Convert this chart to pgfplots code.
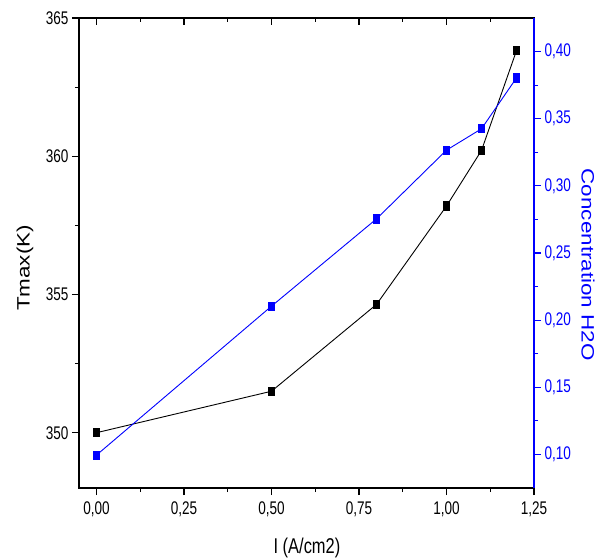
\documentclass[border=0pt]{standalone}
\usepackage{fontspec}
\setmainfont{Liberation Sans}
\usepackage{graphicx}
\usepackage{pgfplots}
\pgfplotsset{compat=1.18}
\definecolor{pblue}{RGB}{0,0,255}
\begin{document}
\begin{tikzpicture}
\path[use as bounding box] (-79bp,-72bp) rectangle (527bp,488bp);
\pgfplotsset{
  common/.style={
    scale only axis, width=455bp, height=470bp,
    xmin=-0.05, xmax=1.25,
    /pgf/number format/assume math mode=true,
    major tick length=7bp, minor tick length=4bp,
    every tick/.style={line width=1.1bp},
    axis line style={line width=1.4bp},
    tick label style={font=\fontsize{13.6}{15}\selectfont},
    xticklabel={\scalebox{1}[1.35]{\pgfmathprintnumber{\tick}}},
    yticklabel={\scalebox{1}[1.35]{\pgfmathprintnumber{\tick}}},
  }
}
% black, left axis
\begin{axis}[common,
  ymin=348, ymax=365,
  xtick={0,0.25,0.5,0.75,1.0,1.25},
  minor x tick num=1,
  ytick={350,355,360,365},
  minor y tick num=1,
  tick align=outside, tick pos=left,
  xticklabel style={yshift=-3bp, /pgf/number format/.cd, fixed, fixed zerofill, precision=2, use comma},
  yticklabel style={/pgf/number format/.cd, fixed, precision=0},
  xlabel={\scalebox{1}[1.3]{I (A/cm2)}},
  ylabel={\scalebox{1.25}[1]{Tmax(K)}},
  xlabel style={at={(axis description cs:0.501,-0.1277)}, anchor=center, font=\fontsize{16.5}{18}\selectfont},
  ylabel style={at={(axis description cs:-0.1187,0.468)}, anchor=center, font=\fontsize{18}{20}\selectfont},
]
\addplot[black, line width=0.9bp, mark=square*, mark size=3.4bp,
  mark options={solid, yscale=1.2}]
  coordinates {(0,350.0) (0.5,351.5) (0.8,354.64) (1.0,358.2) (1.1,360.21) (1.2,363.82)};
\end{axis}
% top ticks inside
\begin{axis}[common,
  ymin=348, ymax=365,
  axis x line*=top, axis y line=none,
  xtick={0,0.25,0.5,0.75,1.0,1.25},
  minor x tick num=1,
  xticklabels={},
  tick align=inside,
]
\end{axis}
% blue, right axis
\begin{axis}[common,
  ymin=0.075, ymax=0.425,
  axis y line*=right, axis x line=none,
  ytick={0.10,0.15,0.20,0.25,0.30,0.35,0.40},
  minor y tick num=1,
  tick align=outside,
  y axis line style={pblue, line width=1.4bp},
  every y tick/.style={pblue, line width=1.1bp},
  yticklabel style={pblue, /pgf/number format/.cd, fixed, fixed zerofill, precision=2, use comma},
  ylabel={\scalebox{1.25}[1]{Concentration H2O}},
  ylabel style={at={(axis description cs:1.1187,0.475)}, anchor=center, rotate=180, pblue, font=\fontsize{18}{20}\selectfont},
]
\addplot[pblue, line width=0.9bp, mark=square*, mark size=3.4bp,
  mark options={solid, yscale=1.2}]
  coordinates {(0,0.0995) (0.5,0.2104) (0.8,0.2754) (1.0,0.3266) (1.1,0.3425) (1.2,0.3804)};
\end{axis}
\end{tikzpicture}
\end{document}
